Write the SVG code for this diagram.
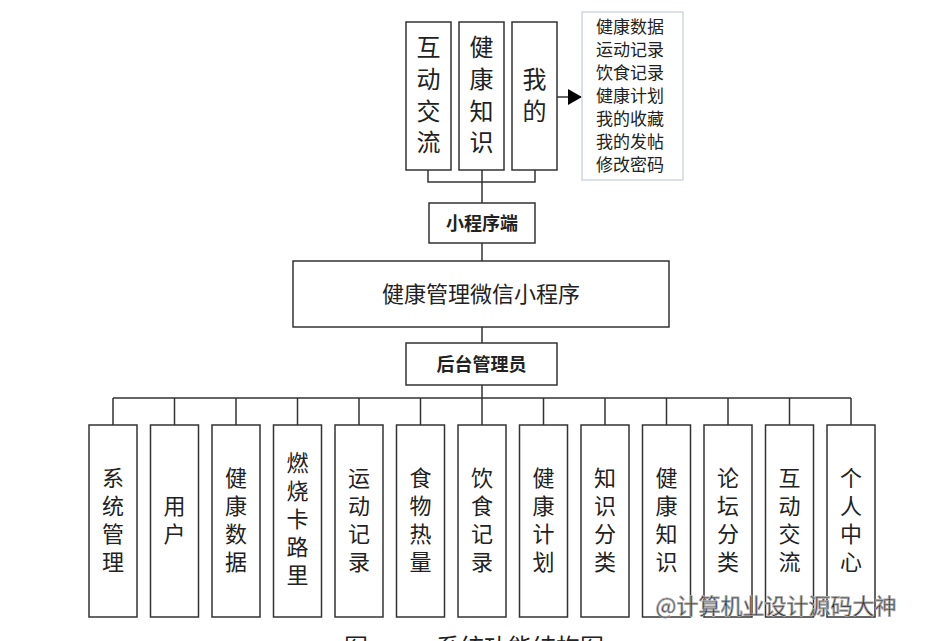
<svg xmlns="http://www.w3.org/2000/svg" width="943" height="641" viewBox="0 0 943 641">
<style>
rect.b{fill:#fff;stroke:#333;stroke-width:1.5}
.t{font-family:"Noto Sans CJK SC",sans-serif;fill:#222;text-anchor:middle}
.v{font-size:22px}
.tv{font-size:24px}
.l{stroke:#333;stroke-width:1.5;fill:none}
</style>
<defs><marker id="ar" markerWidth="14" markerHeight="16" refX="13" refY="8" orient="auto" markerUnits="userSpaceOnUse"><path d="M0,0L14,8L0,16z" fill="#000"/></marker></defs>
<rect width="943" height="641" fill="#fff"/>
<g id="connectors">
<path class="l" d="M428,170V182H535V170M482,170V203M482,243V261M482,327V343M482,385V398M113,398H851"/>
<path class="l" d="M113,398V425M174.5,398V425M236,398V425M297.5,398V425M359,398V425M420.5,398V425M482,398V425M543.5,398V425M605,398V425M666.5,398V425M728,398V425M789.5,398V425M851,398V425"/>
<path class="l" d="M557,97H581" stroke-width="2.5" marker-end="url(#ar)"/>
</g>
<g id="n1"><rect class="b" x="406" y="22" width="45" height="148"/><text class="t tv" x="428.5"><tspan y="56">互</tspan><tspan x="428.5" y="88">动</tspan><tspan x="428.5" y="120">交</tspan><tspan x="428.5" y="151">流</tspan></text></g>
<g id="n2"><rect class="b" x="459" y="22" width="45" height="148"/><text class="t tv" x="481.5"><tspan y="56">健</tspan><tspan x="481.5" y="88">康</tspan><tspan x="481.5" y="120">知</tspan><tspan x="481.5" y="151">识</tspan></text></g>
<g id="n3"><rect class="b" x="512" y="22" width="45" height="148"/><text class="t tv" x="534.5"><tspan y="88">我</tspan><tspan x="534.5" y="120">的</tspan></text></g>
<g id="info"><rect x="582" y="12" width="101" height="168" fill="#fff" stroke="#cfd8e3" stroke-width="1.5"/><text class="t" font-size="17" x="630"><tspan y="33">健康数据</tspan><tspan x="630" y="56">运动记录</tspan><tspan x="630" y="79">饮食记录</tspan><tspan x="630" y="102">健康计划</tspan><tspan x="630" y="125">我的收藏</tspan><tspan x="630" y="148">我的发帖</tspan><tspan x="630" y="171">修改密码</tspan></text></g>
<g id="mini"><rect class="b" x="429" y="203" width="106" height="40"/><text class="t" font-size="18" font-weight="bold" x="482" y="230">小程序端</text></g>
<g id="main"><rect class="b" x="293" y="261" width="376" height="66"/><text class="t" font-size="22" x="481" y="302">健康管理微信小程序</text></g>
<g id="admin"><rect class="b" x="406" y="343" width="151" height="42"/><text class="t" font-size="18" font-weight="bold" x="481.5" y="371">后台管理员</text></g>
<g id="m1"><rect class="b" x="89" y="425" width="48" height="192"/><text class="t v" x="113"><tspan y="486">系</tspan><tspan x="113" y="514">统</tspan><tspan x="113" y="542">管</tspan><tspan x="113" y="570">理</tspan></text></g>
<g id="m2"><rect class="b" x="150.5" y="425" width="48" height="192"/><text class="t v" x="174.5"><tspan y="514">用</tspan><tspan x="174.5" y="542">户</tspan></text></g>
<g id="m3"><rect class="b" x="212" y="425" width="48" height="192"/><text class="t v" x="236"><tspan y="486">健</tspan><tspan x="236" y="514">康</tspan><tspan x="236" y="542">数</tspan><tspan x="236" y="570">据</tspan></text></g>
<g id="m4"><rect class="b" x="273.5" y="425" width="48" height="192"/><text class="t v" x="297.5"><tspan y="471">燃</tspan><tspan x="297.5" y="499">烧</tspan><tspan x="297.5" y="527">卡</tspan><tspan x="297.5" y="555">路</tspan><tspan x="297.5" y="583">里</tspan></text></g>
<g id="m5"><rect class="b" x="335" y="425" width="48" height="192"/><text class="t v" x="359"><tspan y="486">运</tspan><tspan x="359" y="514">动</tspan><tspan x="359" y="542">记</tspan><tspan x="359" y="570">录</tspan></text></g>
<g id="m6"><rect class="b" x="396.5" y="425" width="48" height="192"/><text class="t v" x="420.5"><tspan y="486">食</tspan><tspan x="420.5" y="514">物</tspan><tspan x="420.5" y="542">热</tspan><tspan x="420.5" y="570">量</tspan></text></g>
<g id="m7"><rect class="b" x="458" y="425" width="48" height="192"/><text class="t v" x="482"><tspan y="486">饮</tspan><tspan x="482" y="514">食</tspan><tspan x="482" y="542">记</tspan><tspan x="482" y="570">录</tspan></text></g>
<g id="m8"><rect class="b" x="519.5" y="425" width="48" height="192"/><text class="t v" x="543.5"><tspan y="486">健</tspan><tspan x="543.5" y="514">康</tspan><tspan x="543.5" y="542">计</tspan><tspan x="543.5" y="570">划</tspan></text></g>
<g id="m9"><rect class="b" x="581" y="425" width="48" height="192"/><text class="t v" x="605"><tspan y="486">知</tspan><tspan x="605" y="514">识</tspan><tspan x="605" y="542">分</tspan><tspan x="605" y="570">类</tspan></text></g>
<g id="m10"><rect class="b" x="642.5" y="425" width="48" height="192"/><text class="t v" x="666.5"><tspan y="486">健</tspan><tspan x="666.5" y="514">康</tspan><tspan x="666.5" y="542">知</tspan><tspan x="666.5" y="570">识</tspan></text></g>
<g id="m11"><rect class="b" x="704" y="425" width="48" height="192"/><text class="t v" x="728"><tspan y="486">论</tspan><tspan x="728" y="514">坛</tspan><tspan x="728" y="542">分</tspan><tspan x="728" y="570">类</tspan></text></g>
<g id="m12"><rect class="b" x="765.5" y="425" width="48" height="192"/><text class="t v" x="789.5"><tspan y="486">互</tspan><tspan x="789.5" y="514">动</tspan><tspan x="789.5" y="542">交</tspan><tspan x="789.5" y="570">流</tspan></text></g>
<g id="m13"><rect class="b" x="827" y="425" width="48" height="192"/><text class="t v" x="851"><tspan y="486">个</tspan><tspan x="851" y="514">人</tspan><tspan x="851" y="542">中</tspan><tspan x="851" y="570">心</tspan></text></g>
<text class="t" font-size="22" x="776" y="614" fill="#fff" stroke="#aaa" stroke-width="0.8">@计算机业设计源码大神</text>
<text class="t" font-size="24" x="356" y="656">图</text>
<text class="t" font-size="24" x="520" y="656">系统功能结构图</text>
</svg>
